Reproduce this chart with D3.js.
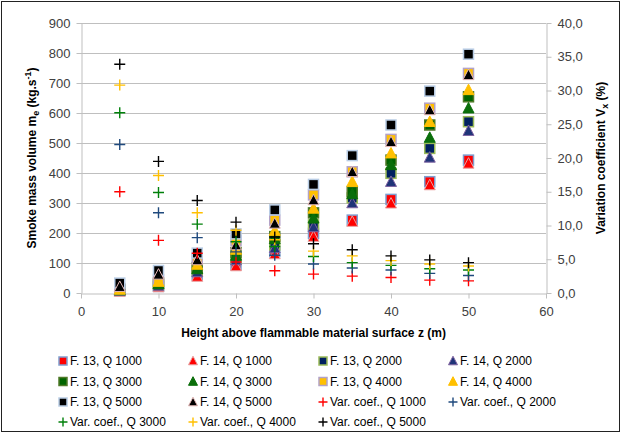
<!DOCTYPE html>
<html lang="en">
<head>
    <meta charset="UTF-8">
    <title>Smoke mass volume vs height</title>
    <script src="https://d3js.org/d3.v7.min.js"></script>
    <style>
        body { margin: 0; background: #fff; }
        svg { display: block; font-family: "Liberation Sans", Arial, sans-serif; }
        .tick text { font-size: 13px; fill: #404040; }
        .title { font-size: 12px; font-weight: bold; fill: #000; }
        .legend text { font-size: 12px; fill: #000; }
    </style>
</head>
<body>
<svg width="622" height="434"></svg>
<script>
    // heights above the flammable surface (m)
    const heights = [5, 10, 15, 20, 25, 30, 35, 40, 45, 50];

    // smoke mass volume (kg/s)
    const f13q1000 = [8, 22, 60, 95, 138, 199, 243, 312, 371, 443];
    const f14q1000 = [5, 20, 55, 90, 130, 188, 238, 299, 360, 432];
    const f13q2000 = [10, 28, 75, 115, 160, 227, 317, 399, 482, 571];
    const f14q2000 = [8, 25, 70, 110, 150, 220, 300, 371, 452, 541];
    const f13q3000 = [12, 33, 85, 135, 188, 267, 338, 443, 560, 654];
    const f14q3000 = [10, 30, 80, 125, 180, 249, 330, 427, 518, 616];
    const f13q4000 = [15, 45, 115, 175, 243, 327, 404, 512, 616, 732];
    const f14q4000 = [12, 38, 95, 145, 208, 282, 371, 466, 571, 677];
    const f13q5000 = [33, 75, 133, 197, 277, 362, 458, 560, 673, 796];
    const f14q5000 = [21, 62, 110, 160, 232, 310, 404, 504, 610, 727];

    // variation coefficient (%), right axis
    const varQ1000 = [15.0, 7.8, 5.9, 4.6, 3.3, 2.8, 2.5, 2.3, 1.9, 1.8];
    const varQ2000 = [22.0, 11.9, 8.2, 6.1, 5.6, 4.3, 3.7, 3.4, 2.9, 2.6];
    const varQ3000 = [26.7, 14.9, 10.2, 7.6, 6.9, 5.4, 4.5, 4.1, 3.6, 3.4];
    const varQ4000 = [30.8, 17.4, 11.9, 9.3, 7.9, 6.2, 5.5, 4.8, 4.3, 4.0];
    const varQ5000 = [33.9, 19.5, 13.7, 10.5, 8.3, 7.3, 6.4, 5.5, 4.9, 4.5];

    const xTicks = [0, 10, 20, 30, 40, 50, 60];
    const yLeftTicks = [0, 100, 200, 300, 400, 500, 600, 700, 800, 900];
    const yRightTicks = [0, 5, 10, 15, 20, 25, 30, 35, 40];

    // series in Excel drawing order (also legend order)
    const series = [
        { name: "F. 13, Q 1000", values: f13q1000, shape: "square", fill: "#ff0000", stroke: "#7f9fd0", axis: "L" },
        { name: "F. 14, Q 1000", values: f14q1000, shape: "triangle", fill: "#ff0000", stroke: "#e8a0a0", axis: "L" },
        { name: "F. 13, Q 2000", values: f13q2000, shape: "square", fill: "#002060", stroke: "#9bbb59", axis: "L" },
        { name: "F. 14, Q 2000", values: f14q2000, shape: "triangle", fill: "#1f3478", stroke: "#8064a2", axis: "L" },
        { name: "F. 13, Q 3000", values: f13q3000, shape: "square", fill: "#006400", stroke: "#4f7a28", axis: "L" },
        { name: "F. 14, Q 3000", values: f14q3000, shape: "triangle", fill: "#0a6e0a", stroke: "#0a6e0a", axis: "L" },
        { name: "F. 13, Q 4000", values: f13q4000, shape: "square", fill: "#ffc000", stroke: "#b3a2c7", axis: "L" },
        { name: "F. 14, Q 4000", values: f14q4000, shape: "triangle", fill: "#ffc000", stroke: "#ffc000", axis: "L" },
        { name: "F. 13, Q 5000", values: f13q5000, shape: "square", fill: "#000000", stroke: "#b9cde5", axis: "L" },
        { name: "F. 14, Q 5000", values: f14q5000, shape: "triangle", fill: "#000000", stroke: "#e6b9b8", axis: "L" },
        { name: "Var. coef., Q 1000", values: varQ1000, shape: "cross", fill: "none", stroke: "#ff0000", axis: "R" },
        { name: "Var. coef., Q 2000", values: varQ2000, shape: "cross", fill: "none", stroke: "#1f497d", axis: "R" },
        { name: "Var. coef., Q 3000", values: varQ3000, shape: "cross", fill: "none", stroke: "#00800a", axis: "R" },
        { name: "Var. coef., Q 4000", values: varQ4000, shape: "cross", fill: "none", stroke: "#ffc000", axis: "R" },
        { name: "Var. coef., Q 5000", values: varQ5000, shape: "cross", fill: "none", stroke: "#000000", axis: "R" }
    ];

    const svg = d3.select("svg");
    const plotLeft = 81, plotRight = 546, plotTop = 23, plotBottom = 293;

    const x = d3.scaleLinear().domain([0, 60]).range([plotLeft, plotRight]);
    const yL = d3.scaleLinear().domain([0, 900]).range([plotBottom, plotTop]);
    const yR = d3.scaleLinear().domain([0, 40]).range([plotBottom, plotTop]);

    // outer chart border
    svg.append("rect")
        .attr("x", 1.5).attr("y", 1.5).attr("width", 618).attr("height", 430)
        .attr("fill", "none").attr("stroke", "#222").attr("stroke-width", 1);

    // horizontal gridlines
    svg.append("g").selectAll("line")
        .data(yLeftTicks.filter(d => d > 0))
        .join("line")
        .attr("x1", plotLeft).attr("x2", plotRight)
        .attr("y1", d => Math.round(yL(d)) + 0.5).attr("y2", d => Math.round(yL(d)) + 0.5)
        .attr("stroke", "#bfbfbf");

    function styleAxis(g) {
        g.select(".domain").attr("stroke", "#bfbfbf");
        g.selectAll(".tick line").attr("stroke", "#bfbfbf");
    }

    svg.append("g")
        .attr("transform", `translate(${plotLeft + 0.5},0)`)
        .call(d3.axisLeft(yL).tickValues(yLeftTicks).tickSize(5).tickPadding(6).tickSizeOuter(0))
        .call(styleAxis);

    svg.append("g")
        .attr("transform", `translate(${plotRight + 0.5},0)`)
        .call(d3.axisRight(yR).tickValues(yRightTicks).tickSize(5).tickPadding(6).tickSizeOuter(0)
            .tickFormat(d => d3.format(".1f")(d).replace(".", ",")))
        .call(styleAxis);

    svg.append("g")
        .attr("transform", `translate(0,${plotBottom + 0.5})`)
        .call(d3.axisBottom(x).tickValues(xTicks).tickSize(5).tickPadding(8).tickSizeOuter(0))
        .call(styleAxis);

    // axis titles
    const midY = (plotTop + plotBottom) / 2;
    const lt = svg.append("text").attr("class", "title")
        .attr("transform", `translate(36,${midY}) rotate(-90)`)
        .attr("text-anchor", "middle");
    lt.append("tspan").text("Smoke mass volume m");
    lt.append("tspan").attr("font-size", 9).attr("dy", 3).text("e");
    lt.append("tspan").attr("dy", -3).text(" (kg.s");
    lt.append("tspan").attr("font-size", 9).attr("dy", -5).text("-1");
    lt.append("tspan").attr("dy", 5).text(")");

    const rt = svg.append("text").attr("class", "title")
        .attr("transform", `translate(605,${midY}) rotate(-90)`)
        .attr("text-anchor", "middle");
    rt.append("tspan").text("Variation coefficient V");
    rt.append("tspan").attr("font-size", 9).attr("dy", 3).text("x");
    rt.append("tspan").attr("dy", -3).text(" (%)");

    svg.append("text").attr("class", "title")
        .attr("x", (plotLeft + plotRight) / 2).attr("y", 337)
        .attr("text-anchor", "middle")
        .text("Height above flammable material surface z (m)");

    // marker drawing
    function drawMarker(sel, s, size) {
        if (s.shape === "square") {
            sel.append("rect")
                .attr("x", -size / 2).attr("y", -size / 2)
                .attr("width", size).attr("height", size)
                .attr("fill", s.fill).attr("stroke", s.stroke).attr("stroke-width", 1.5);
        } else if (s.shape === "triangle") {
            const h = size * 0.95;
            sel.append("path")
                .attr("d", `M0,${-h / 2 - 1}L${size / 2 + 0.5},${h / 2}L${-size / 2 - 0.5},${h / 2}Z`)
                .attr("fill", s.fill).attr("stroke", s.stroke).attr("stroke-width", 1);
        } else {
            const r = size / 2 + 0.5;
            sel.append("path")
                .attr("d", `M${-r},0H${r}M0,${-r}V${r}`)
                .attr("fill", "none").attr("stroke", s.stroke).attr("stroke-width", 1.4);
        }
    }

    const plot = svg.append("g");
    series.forEach(s => {
        const y = s.axis === "L" ? yL : yR;
        plot.append("g").selectAll("g")
            .data(s.values.map((v, i) => ({ h: heights[i], v })))
            .join("g")
            .attr("transform", d => `translate(${x(d.h)},${y(d.v)})`)
            .each(function () { drawMarker(d3.select(this), s, 10); });
    });

    // legend: 4 columns
    const legX = [63, 193, 323, 453];
    const legY = [361, 381.5, 402, 422];
    const legend = svg.append("g").attr("class", "legend");
    series.forEach((s, i) => {
        const g = legend.append("g")
            .attr("transform", `translate(${legX[i % 4]},${legY[Math.floor(i / 4)]})`);
        drawMarker(g, s, 8);
        g.append("text").attr("x", 7).attr("dy", "0.35em").text(s.name);
    });
</script>
</body>
</html>
